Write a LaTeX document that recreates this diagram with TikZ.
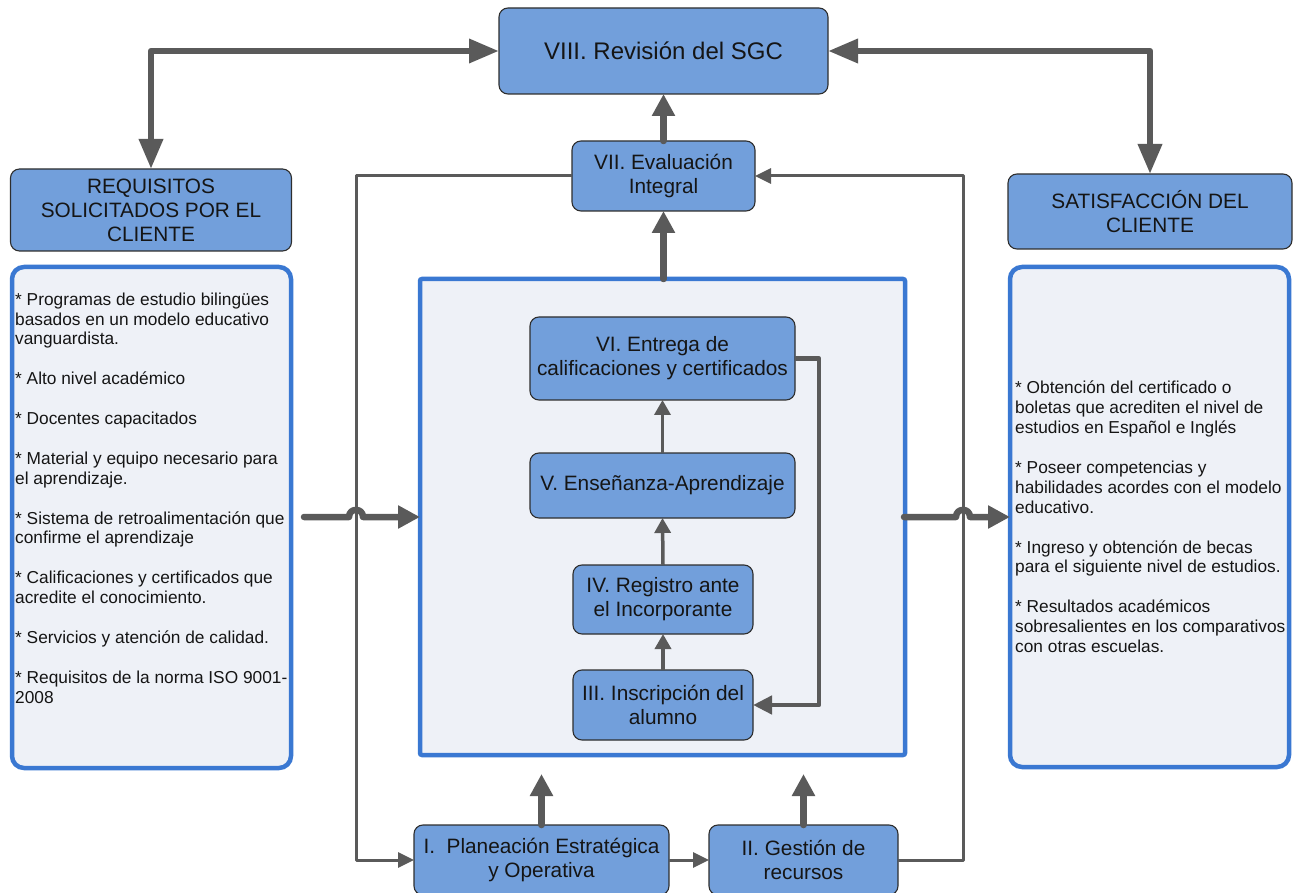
\documentclass[tikz,border=0pt]{standalone}
\usepackage{fontspec}
\setmainfont{Liberation Sans}
\usetikzlibrary{arrows.meta,calc}
\definecolor{boxblue}{HTML}{729FDB}
\definecolor{lineblue}{HTML}{3A78D2}
\definecolor{panel}{HTML}{EEF1F7}
\definecolor{conn}{HTML}{5A5A5A}
\definecolor{ink}{HTML}{151515}
\definecolor{edge}{HTML}{2E2E2E}
\begin{document}
\begin{tikzpicture}[x=1pt,y=-1pt,
 proc/.style={draw=edge, line width=1.1pt, fill=boxblue, rounded corners=9pt, align=center, text=ink, font=\fontsize{20.8}{24}\selectfont, inner sep=0pt, outer sep=0pt},
 panelbox/.style={draw=lineblue, line width=4.5pt, fill=panel, rounded corners=12pt, inner sep=0pt, outer sep=0pt},
 centerbox/.style={draw=lineblue, line width=4.5pt, fill=panel, rounded corners=2pt, inner sep=0pt, outer sep=0pt},
 listtext/.style={align=left, text=ink, font=\fontsize{17.3}{19.9}\selectfont, inner sep=0pt, anchor=north west},
 bigarr/.style={draw=conn, line width=6.5pt, line join=round, {Triangle[length=30pt,width=23pt]}-{Triangle[length=30pt,width=23pt]}},
 thickarr/.style={draw=conn, line width=6.5pt, line cap=round, line join=round, -{Triangle[length=22pt,width=22pt]}},
 thinarr/.style={draw=conn, line width=3pt, line join=round, -{Triangle[length=16pt,width=15pt]}},
 innerarr/.style={draw=conn, line width=3.5pt, -{Triangle[length=15pt,width=16pt]}},
 midarr/.style={draw=conn, line width=4.5pt, line join=round, -{Triangle[length=19pt,width=18pt]}}
]
\useasboundingbox (0,0) rectangle (1294,893);

% panels
\node[panelbox, minimum width=279pt, minimum height=501pt] (lbox) at (151.5,517.5) {};
\node[panelbox, minimum width=279pt, minimum height=500pt] (rbox) at (1149.5,517) {};
\node[centerbox, minimum width=485pt, minimum height=476pt] (cbox) at (662.5,517) {};

% process boxes
\node[proc, minimum width=329pt, minimum height=86pt, font=\fontsize{24}{28}\selectfont] (viii) at (663.5,51) {VIII. Revisión del SGC};
\node[proc, minimum width=183pt, minimum height=70pt] (vii) at (663.5,176) {VII. Evaluación\\Integral};
\node[proc, minimum width=281pt, minimum height=82pt] (req) at (151,210) {REQUISITOS\\SOLICITADOS POR EL\\CLIENTE};
\node[proc, minimum width=284pt, minimum height=75pt] (sat) at (1150,211.5) {SATISFACCIÓN DEL\\CLIENTE};
\node[proc, minimum width=265pt, minimum height=83pt] (vi) at (662.5,358.5) {VI. Entrega de\\calificaciones y certificados};
\node[proc, minimum width=265pt, minimum height=65pt] (v) at (662.5,485.5) {V. Enseñanza-Aprendizaje};
\node[proc, minimum width=180pt, minimum height=69pt] (iv) at (663,599.5) {IV. Registro ante\\el Incorporante};
\node[proc, minimum width=180pt, minimum height=70pt] (iii) at (663,705) {III. Inscripción del\\alumno};
\node[proc, minimum width=255pt, minimum height=70pt] (pI) at (541.5,860) {I.\ \ Planeación Estratégica\\y Operativa};
\node[proc, minimum width=189pt, minimum height=70pt] (pII) at (803.5,860) {II. Gestión de\\recursos};

% list texts
\node[listtext] (ltext) at (15,292.4) {* Programas de estudio bilingües\\basados en un modelo educativo\\vanguardista.\\[19.9pt]* Alto nivel académico\\[19.9pt]* Docentes capacitados\\[19.9pt]* Material y equipo necesario para\\el aprendizaje.\\[19.9pt]* Sistema de retroalimentación que\\confirme el aprendizaje\\[19.9pt]* Calificaciones y certificados que\\acredite el conocimiento.\\[19.9pt]* Servicios y atención de calidad.\\[19.9pt]* Requisitos de la norma ISO 9001-\\2008};
\node[listtext] (rtext) at (1015,380.9) {* Obtención del certificado o\\boletas que acrediten el nivel de\\estudios en Español e Inglés\\[19.9pt]* Poseer competencias y\\habilidades acordes con el modelo\\educativo.\\[19.9pt]* Ingreso y obtención de becas\\para el siguiente nivel de estudios.\\[19.9pt]* Resultados académicos\\sobresalientes en los comparativos\\con otras escuelas.};

% helper coordinates
\coordinate (lx) at (356,0);
\coordinate (rx) at (963,0);
\coordinate (fx) at (819,0);
\coordinate (lstart) at (304,517);
\coordinate (rstart) at (904,517);
\coordinate (upI) at (541.5,774);
\coordinate (upII) at (803.5,774);

% thin feedback loops
\draw[thinarr] (vii.west) -| (lx |- pI.west) -- (pI.west);
\draw[thinarr] (pII.east) -| (rx |- vii.east) -- (vii.east);
\draw[thinarr] (pI.east) -- (pII.west);

% inner chain
\draw[innerarr] (iii.north) -- (iv.south);
\draw[innerarr] (iv.north) -- (v.south);
\draw[innerarr] (v.north) -- (vi.south);
\draw[midarr] (vi.east) -| (fx |- iii.east) -- (iii.east);

% thick arrows
\draw[bigarr] (req.north) |- (viii.west);
\draw[bigarr] (sat.north) |- (viii.east);
\draw[thickarr] (vii.north) -- (viii.south);
\draw[thickarr] (vii.south |- cbox.north) -- (vii.south);
\draw[thickarr] (pI.north) -- (upI);
\draw[thickarr] (pII.north) -- (upII);
\draw[thickarr] (lstart) -- (349,517) .. controls (349,507.5) and (363,507.5) .. (363,517) -- (cbox.west);
\draw[thickarr] (rstart) -- (956,517) .. controls (956,507.5) and (970,507.5) .. (970,517) -- (rbox.west);
\end{tikzpicture}
\end{document}
